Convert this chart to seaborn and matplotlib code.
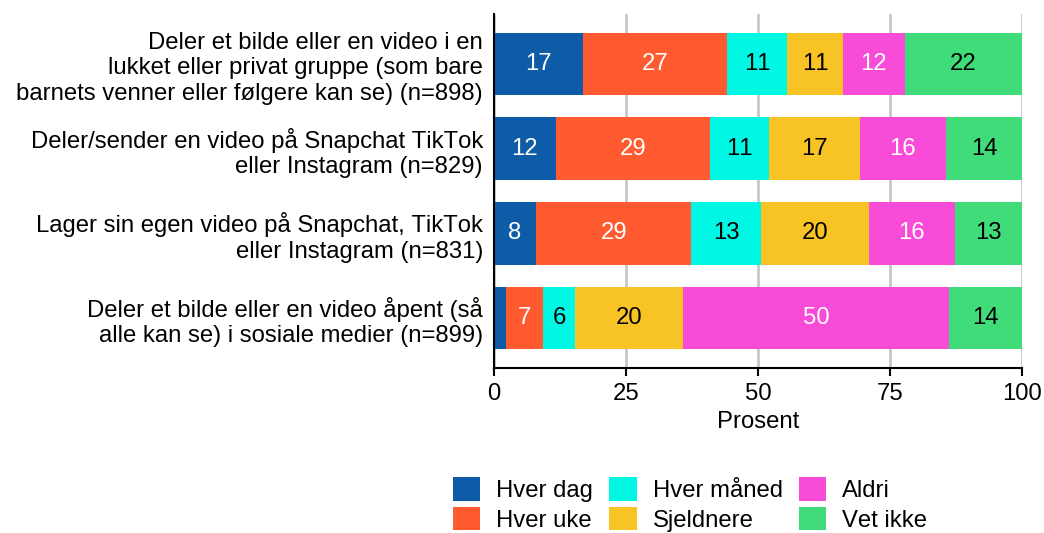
import numpy as np
import pandas as pd
import matplotlib
matplotlib.use("Agg")
import matplotlib.pyplot as plt
import seaborn as sns
from matplotlib.patches import Patch

categories = [
    "Deler et bilde eller en video i en\nlukket eller privat gruppe (som bare\nbarnets venner eller følgere kan se) (n=898)",
    "Deler/sender en video på Snapchat TikTok\neller Instagram (n=829)",
    "Lager sin egen video på Snapchat, TikTok\neller Instagram (n=831)",
    "Deler et bilde eller en video åpent (så\nalle kan se) i sosiale medier (n=899)",
]
series = ["Hver dag", "Hver uke", "Hver måned", "Sjeldnere", "Aldri", "Vet ikke"]
hver_dag   = [16.9, 11.7, 8.0, 2.3]
hver_uke   = [27.2, 29.2, 29.3, 7.0]
hver_maned = [11.4, 11.2, 13.3, 6.0]
sjeldnere  = [10.6, 17.2, 20.4, 20.5]
aldri      = [11.7, 16.3, 16.3, 50.4]
vet_ikke   = [22.2, 14.4, 12.7, 13.8]
xticks = [0, 25, 50, 75, 100]

colors = ["#0e5ca8", "#ff5a30", "#00f7e4", "#f8c325", "#f84bd8", "#40dc7a"]
text_colors = ["white", "white", "black", "black", "white", "black"]

values = np.array([hver_dag, hver_uke, hver_maned, sjeldnere, aldri, vet_ikke])
cum = np.cumsum(values, axis=0)
starts = cum - values

sns.set_theme(style="white")
plt.rcParams["font.family"] = ["Liberation Sans", "DejaVu Sans"]
plt.rcParams["text.color"] = "black"
plt.rcParams["xtick.color"] = "black"
plt.rcParams["ytick.color"] = "black"
plt.rcParams["axes.labelcolor"] = "black"
plt.rcParams["text.kerning_factor"] = 10
FS = 17.2

fig = plt.figure(figsize=(10.44, 5.33), dpi=100)
ax = fig.add_axes([494 / 1044, 1 - 368 / 533, (1022 - 494) / 1044, (368 - 14) / 533])

# draw cumulative bars from last to first so earlier segments overlay
for i in range(len(series) - 1, -1, -1):
    df = pd.DataFrame({"cat": categories, "val": cum[i]})
    sns.barplot(data=df, x="val", y="cat", orient="h", color=colors[i],
                width=0.74, saturation=1, ax=ax, zorder=3, linewidth=0)

for i in range(len(series)):
    for j in range(len(categories)):
        v = values[i, j]
        if v >= 5:
            ax.text(starts[i, j] + v / 2, j, f"{round(v):d}", ha="center", va="center",
                    color=text_colors[i], fontsize=FS, zorder=5)

ax.set_xlim(0, 100)
ax.set_ylim(3.59, -0.59)
ax.set_xticks(xticks)
ax.set_xticklabels([str(t) for t in xticks], fontsize=FS)
ax.set_xlabel("Prosent", fontsize=FS, labelpad=4)
ax.set_ylabel("")
ax.tick_params(axis="y", labelsize=FS, length=0, pad=8)
ax.tick_params(axis="x", length=6, width=1.5, color="black", direction="out", pad=5, bottom=True)
for lab in ax.get_yticklabels():
    lab.set_horizontalalignment("right")
    lab.set_multialignment("right")
    lab.set_linespacing(1.2)

ax.grid(axis="x", color="#c8c8c8", linewidth=2, zorder=0)
ax.grid(axis="y", visible=False)
ax.set_axisbelow(True)
for s in ["top", "right"]:
    ax.spines[s].set_visible(False)
for s in ["left", "bottom"]:
    ax.spines[s].set_color("black")
    ax.spines[s].set_linewidth(1.5)
    ax.spines[s].set_zorder(6)

handles = [Patch(facecolor=c, edgecolor="none") for c in colors]
fig.legend(handles, series, loc="upper left", bbox_to_anchor=(453 / 1044, 1 - 477 / 533),
           ncol=3, frameon=False, fontsize=FS, handlelength=1.15, handleheight=1.15,
           handletextpad=0.66, columnspacing=0.68, labelspacing=0.2, borderpad=0,
           borderaxespad=0)

fig.savefig("out.png", dpi=100, facecolor="white")
